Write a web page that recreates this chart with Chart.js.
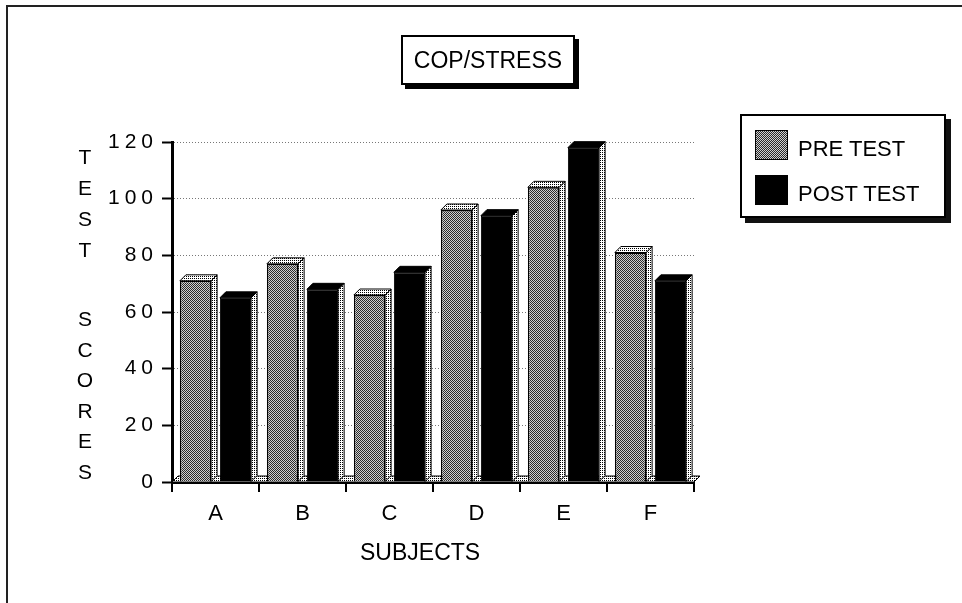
<!DOCTYPE html>
<html>
<head>
<meta charset="utf-8">
<script src="https://cdn.jsdelivr.net/npm/chart.js@4.4.1/dist/chart.umd.min.js"></script>
<style>
  body { margin: 0; background: #fff; font-family: "Liberation Sans", Arial, sans-serif; color: #000; }
  #wrap { position: relative; width: 962px; height: 603px; overflow: hidden; }
  #chart { position: absolute; left: 0; top: 0; }
  .frame { position: absolute; left: 6px; top: 5px; width: 1000px; height: 700px; border-top: 2px solid #222; border-left: 2px solid #222; }
  .title { position: absolute; left: 401px; top: 35px; width: 170px; height: 46px; border: 2px solid #000; box-shadow: 4px 4px 0 #000; font-size: 23px; line-height: 46px; text-align: center; background: #fff; }
  .legend { position: absolute; left: 740px; top: 114px; width: 202px; height: 100px; border: 2px solid #000; box-shadow: 5px 5px 0 #111; background: #fff; }
  .legend .sw { position: absolute; left: 13px; width: 33px; height: 30px; border: 1px solid #000; box-sizing: border-box; }
  .legend .lb { position: absolute; left: 56px; font-size: 22px; line-height: 26px; }
  .ylab { position: absolute; left: 74px; width: 22px; text-align: center; font-size: 21px; }
  .xtitle { position: absolute; left: 360px; top: 538px; font-size: 23px; line-height: 28px; }
</style>
</head>
<body>
<div id="wrap">
  <canvas id="chart" width="962" height="603"></canvas>
  <div class="frame"></div>
  <div class="title">COP/STRESS</div>
  <div class="legend">
    <div class="sw" id="swPre" style="top:14px"></div>
    <div class="lb" style="top:20px">PRE TEST</div>
    <div class="sw" style="top:59px;background:#000"></div>
    <div class="lb" style="top:65px">POST TEST</div>
  </div>
  <div class="ylab" style="top:141px;line-height:31px">T<br>E<br>S<br>T</div>
  <div class="ylab" style="top:304px;line-height:30.6px">S<br>C<br>O<br>R<br>E<br>S</div>
  <div class="xtitle">SUBJECTS</div>
</div>
<script>
const subjects = ["A", "B", "C", "D", "E", "F"];
const preTest = [71, 77, 66, 96, 104, 81];
const postTest = [65, 68, 74, 94, 118, 71];
const yTicks = [0, 20, 40, 60, 80, 100, 120];

// little dither patterns like the old printout
function makePattern(cells) {
    const c = document.createElement("canvas");
    c.width = cells[0].length;
    c.height = cells.length;
    const g = c.getContext("2d");
    cells.forEach((row, j) => row.forEach((col, i) => {
        g.fillStyle = col;
        g.fillRect(i, j, 1, 1);
    }));
    return c;
}
const grayTile = makePattern([["#2a2a2a", "#d0d0d0"], ["#d0d0d0", "#2a2a2a"]]);
const dotTile = makePattern([["#000", "#fff"], ["#fff", "#fff"]]);
const ctx = document.getElementById("chart").getContext("2d");
const grayFill = ctx.createPattern(grayTile, "repeat");
const dotFill = ctx.createPattern(dotTile, "repeat");
document.getElementById("swPre").style.background = "url(" + grayTile.toDataURL() + ")";

const depth = 6;

function poly(c, pts, fill) {
    c.beginPath();
    c.moveTo(pts[0][0], pts[0][1]);
    for (let i = 1; i < pts.length; i++) c.lineTo(pts[i][0], pts[i][1]);
    c.closePath();
    c.fillStyle = fill;
    c.fill();
    c.stroke();
}

const threeD = {
    id: "threeD",
    beforeDraw(chart) {
        chart.ctx.letterSpacing = "0px";
    },
    beforeDatasetsDraw(chart) {
        const c = chart.ctx;
        const a = chart.chartArea;
        c.save();
        c.strokeStyle = "#000";
        c.lineWidth = 1;
        poly(c, [[a.left, a.bottom], [a.left + depth, a.bottom - depth], [a.right + depth, a.bottom - depth], [a.right, a.bottom]], dotFill);
        c.restore();
    },
    afterDatasetsDraw(chart) {
        const c = chart.ctx;
        c.save();
        c.strokeStyle = "#000";
        c.lineWidth = 1;
        chart.data.datasets.forEach((ds, di) => {
            chart.getDatasetMeta(di).data.forEach((bar) => {
                const { x, y, base, width } = bar.getProps(["x", "y", "base", "width"], true);
                const l = x - width / 2, r = x + width / 2;
                poly(c, [[r, y], [r + depth, y - depth], [r + depth, base - depth], [r, base]], dotFill);
                poly(c, [[l, y], [l + depth, y - depth], [r + depth, y - depth], [r, y]], di === 0 ? dotFill : "#000");
            });
        });
        c.restore();
        c.letterSpacing = "5px";
    },
    afterDraw(chart) {
        chart.ctx.letterSpacing = "0px";
    }
};

new Chart(ctx, {
    type: "bar",
    data: {
        labels: subjects,
        datasets: [
            {
                label: "PRE TEST",
                data: preTest,
                backgroundColor: grayFill,
                borderColor: "#000",
                borderWidth: 1.5,
                categoryPercentage: 0.92,
                barPercentage: 0.78,
            },
            {
                label: "POST TEST",
                data: postTest,
                backgroundColor: "#000",
                borderColor: "#000",
                borderWidth: 1,
                categoryPercentage: 0.92,
                barPercentage: 0.78,
            },
        ],
    },
    options: {
        responsive: false,
        animation: false,
        devicePixelRatio: 1,
        layout: { padding: { top: 142, right: 268, left: 0, bottom: 0 } },
        plugins: {
            legend: { display: false },
            tooltip: { enabled: false },
        },
        scales: {
            x: {
                grid: { offset: true, drawOnChartArea: false, color: "#000", tickLength: 10, lineWidth: 2 },
                border: { color: "#000", width: 3 },
                ticks: { color: "#000", font: { family: "Liberation Sans", size: 22 }, padding: 9 },
                afterFit(s) { s.height = 121; },
            },
            y: {
                min: yTicks[0],
                max: yTicks[yTicks.length - 1],
                ticks: { stepSize: yTicks[1] - yTicks[0], color: "#000", font: { family: "Liberation Sans", size: 21 }, padding: 4, z: 1 },
                grid: { color: "#777", tickColor: "#000", tickLength: 10, lineWidth: 1, tickWidth: 2 },
                border: { color: "#000", width: 3, dash: [1, 2] },
                afterFit(s) { s.width = 172; },
            },
        },
    },
    plugins: [threeD],
});
</script>
</body>
</html>
